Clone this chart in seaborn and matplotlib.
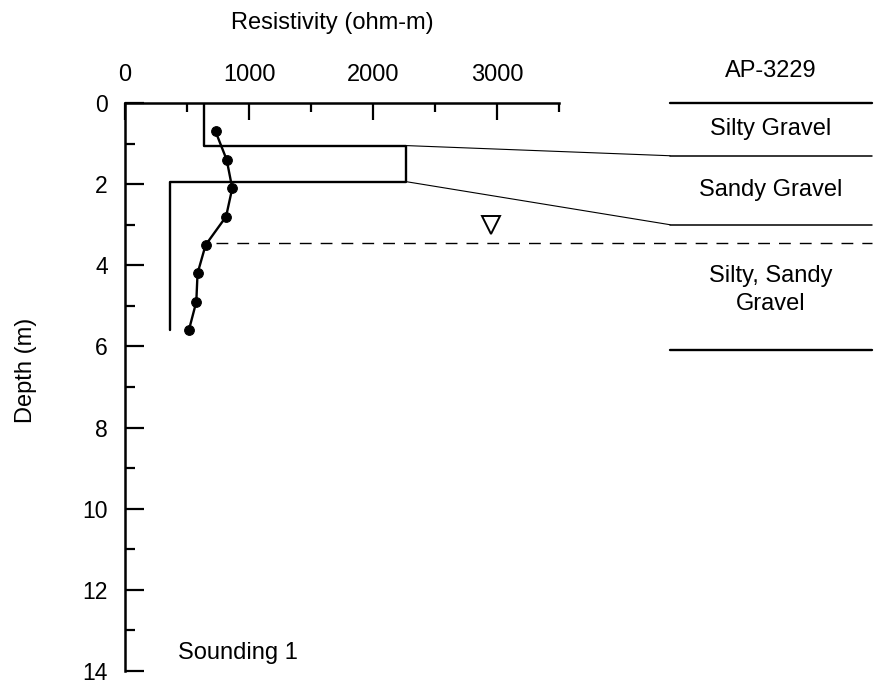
import numpy as np
import pandas as pd
import matplotlib
matplotlib.use("Agg")
import matplotlib.pyplot as plt
import seaborn as sns

# Measured apparent resistivity vs depth (Sounding 1)
depth_meas = [0.7, 1.4, 2.1, 2.8, 3.5, 4.2, 4.9, 5.6]
rho_meas = [730, 820, 865, 815, 650, 585, 575, 515]

# Layered inversion model
model_rho = [640, 2270, 360]
model_bottom = [1.05, 1.94, 5.6]

# Borehole log AP-3229
log_name = "AP-3229"
log_depths = [0.0, 1.3, 3.0, 6.1]
log_units = ["Silty Gravel", "Sandy Gravel", "Silty, Sandy\nGravel"]
water_table = 3.46

x_major = [0, 1000, 2000, 3000]
x_minor = [500, 1500, 2500, 3500]
y_major = [0, 2, 4, 6, 8, 10, 12, 14]
y_minor = [1, 3, 5, 7, 9, 11, 13]

sns.set_style("white")
plt.rcParams["font.family"] = ["Liberation Sans", "DejaVu Sans"]
plt.rcParams.update({"text.color": "black", "axes.labelcolor": "black",
                     "xtick.color": "black", "ytick.color": "black",
                     "xtick.labelcolor": "black", "ytick.labelcolor": "black"})

FS = 17
fig = plt.figure(figsize=(8.75, 6.85), dpi=100)
ax = fig.add_axes([125 / 875, 1 - 671 / 685, (873 - 125) / 875, (671 - 103) / 685])

# step profile of the layered model
step_x, step_y = [], []
top = 0.0
for r, b in zip(model_rho, model_bottom):
    step_x += [r, r]
    step_y += [top, b]
    top = b
model_df = pd.DataFrame({"rho": step_x, "depth": step_y})
sns.lineplot(data=model_df, x="rho", y="depth", sort=False, estimator=None,
             color="black", lw=1.7, ax=ax)

meas_df = pd.DataFrame({"rho": rho_meas, "depth": depth_meas})
sns.lineplot(data=meas_df, x="rho", y="depth", sort=False, estimator=None,
             color="black", lw=1.7, marker="o", markersize=7,
             markeredgecolor="black", ax=ax)

ax.set_xlim(0, 6032)
ax.set_ylim(14, 0)

# borehole log column
log_x0, log_x1 = 4395, 6020
for i, d in enumerate(log_depths):
    lw = 1.7 if i in (0, len(log_depths) - 1) else 1.1
    ax.plot([log_x0, log_x1], [d, d], color="black", lw=lw, clip_on=False)
ax.text((log_x0 + log_x1) / 2, -0.78, log_name, ha="center", va="center", fontsize=FS)
for i, name in enumerate(log_units):
    mid = (log_depths[i] + log_depths[i + 1]) / 2
    if "\n" in name:
        mid += 0.05
    ax.text((log_x0 + log_x1) / 2, mid, name, ha="center", va="center",
            fontsize=FS, linespacing=1.35)

# correlation lines from model interfaces to log contacts
ax.plot([model_rho[1], log_x0], [model_bottom[0], log_depths[1]], color="black", lw=0.8)
ax.plot([model_rho[1], log_x0], [model_bottom[1], log_depths[2]], color="black", lw=0.8)

# water table
ax.plot([730, log_x1], [water_table, water_table], color="black", lw=1.0,
        linestyle=(0, (8.5, 6.5)))
ax.plot([2950], [3.0], marker="v", markersize=13, markerfacecolor="none",
        markeredgecolor="black", markeredgewidth=1.4, linestyle="none")

ax.text(430, 13.55, "Sounding 1", ha="left", va="center", fontsize=FS)

# axes styling
for s in ["right", "bottom"]:
    ax.spines[s].set_visible(False)
ax.spines["top"].set_bounds(0, 3500)
ax.spines["left"].set_bounds(0, 14)
for s in ["top", "left"]:
    ax.spines[s].set_linewidth(1.8)
    ax.spines[s].set_color("black")

ax.xaxis.tick_top()
ax.set_xticks(x_major)
ax.set_xticks(x_minor, minor=True)
ax.set_yticks(y_major)
ax.set_yticks(y_minor, minor=True)
ax.tick_params(axis="x", which="both", direction="in", top=True, bottom=False,
               labeltop=True, labelbottom=False, color="black", width=1.6)
ax.tick_params(axis="x", which="major", length=12, pad=12, labelsize=FS)
ax.tick_params(axis="x", which="minor", length=6.5)
ax.tick_params(axis="y", which="both", direction="in", left=True, right=False,
               color="black", width=1.6)
ax.tick_params(axis="y", which="major", length=14, pad=12.5, labelsize=16.5)
ax.tick_params(axis="y", which="minor", length=7)

ax.xaxis.set_label_position("top")
ax.set_xlabel("Resistivity (ohm-m)", fontsize=FS)
ax.xaxis.set_label_coords(0.277, 1.13)
ax.set_ylabel("Depth (m)", fontsize=FS)
ax.yaxis.set_label_coords(-0.118, 0.53)

fig.savefig("out.png", dpi=100)
